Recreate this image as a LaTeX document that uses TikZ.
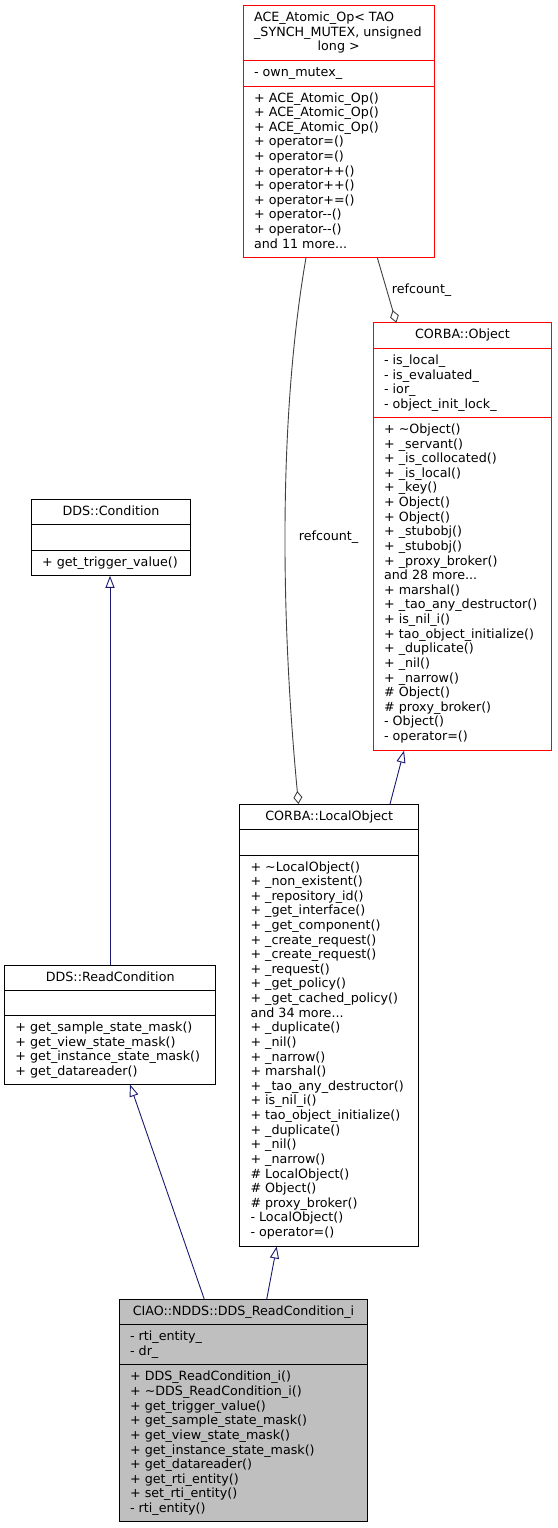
\documentclass[tikz,border=0pt]{standalone}
\usepackage{fontspec}
\newfontfamily\dejavu{DejaVu Sans}
\usetikzlibrary{arrows.meta}
\definecolor{boxred}{HTML}{FF0000}
\definecolor{edgeblue}{HTML}{191970}
\definecolor{agggray}{HTML}{404040}
\definecolor{cfill}{HTML}{BFBFBF}
\newcommand\clsfont{\dejavu\fontsize{12.7pt}{14.62pt}\selectfont}
\newcommand\mlines[1]{\begin{tabular}[t]{@{}l@{}}#1\end{tabular}}
\newcommand\tl{\textasciitilde}
\tikzset{
  classbox/.style={draw, line width=1pt, anchor=north west, inner sep=0pt, outer sep=0pt},
  redbox/.style={classbox, draw=boxred},
  txt/.style={anchor=base west, inner sep=0pt, font=\clsfont},
  ttl/.style={anchor=base, inner sep=0pt, font=\clsfont},
  sepline/.style={line width=1pt},
  inherit/.style={draw=edgeblue, line width=0.9pt, -{Triangle[open, length=12pt, width=9pt]}},
  aggr/.style={draw=agggray, line width=0.9pt, -{Diamond[open, length=13pt, width=9pt]}},
}
\begin{document}
\begin{tikzpicture}[x=1pt, y=-1pt]
\useasboundingbox (0,0) rectangle (557,1528);

% ACE_Atomic_Op
\node[redbox, minimum width=190.7pt, minimum height=251.9pt] (ace) at (243.3,5.7) {};
\draw[sepline, boxred] (243.3,60.4) -- (434,60.4);
\draw[sepline, boxred] (243.3,86) -- (434,86);
\node[txt] (acet) at (253.9,21.7) {\mlines{ACE\_Atomic\_Op< TAO\\\_SYNCH\_MUTEX, unsigned}};
\node[ttl] (acet2) at (338.7,50.9) {long >};
\node[txt] (acea) at (253.9,76.4) {\mlines{- own\_mutex\_}};
\node[txt] (acem) at (253.9,102) {\mlines{+ ACE\_Atomic\_Op()\\+ ACE\_Atomic\_Op()\\+ ACE\_Atomic\_Op()\\+ operator=()\\+ operator=()\\+ operator++()\\+ operator++()\\+ operator+=()\\+ operator--()\\+ operator--()\\and 11 more...}};

% CORBA::Object
\node[redbox, minimum width=178.4pt, minimum height=428pt] (obj) at (373.3,322.7) {};
\draw[sepline, boxred] (373.3,348.5) -- (551.7,348.5);
\draw[sepline, boxred] (373.3,417.5) -- (551.7,417.5);
\node[ttl] (objt) at (462.5,338.7) {CORBA::Object};
\node[txt] (obja) at (383.9,364.5) {\mlines{- is\_local\_\\- is\_evaluated\_\\- ior\_\\- object\_init\_lock\_}};
\node[txt] (objm) at (383.9,433.5) {\mlines{+ \tl Object()\\+ \_servant()\\+ \_is\_collocated()\\+ \_is\_local()\\+ \_key()\\+ Object()\\+ Object()\\+ \_stubobj()\\+ \_stubobj()\\+ \_proxy\_broker()\\and 28 more...\\+ marshal()\\+ \_tao\_any\_destructor()\\+ is\_nil\_i()\\+ tao\_object\_initialize()\\+ \_duplicate()\\+ \_nil()\\+ \_narrow()\\\# Object()\\\# proxy\_broker()\\- Object()\\- operator=()}};

% DDS::Condition
\node[classbox, minimum width=159.4pt, minimum height=76.5pt] (cond) at (31.3,499.3) {};
\draw[sepline] (31.3,524.8) -- (190.7,524.8);
\draw[sepline] (31.3,550.3) -- (190.7,550.3);
\node[ttl] (condt) at (111,515.3) {DDS::Condition};
\node[txt] (condm) at (41.9,566.3) {\mlines{+ get\_trigger\_value()}};

% CORBA::LocalObject
\node[classbox, minimum width=179pt, minimum height=442.5pt] (lo) at (239.7,804) {};
\draw[sepline] (239.7,829.5) -- (418.7,829.5);
\draw[sepline] (239.7,855) -- (418.7,855);
\node[ttl] (lot) at (329.2,820) {CORBA::LocalObject};
\node[txt] (lom) at (250.3,871) {\mlines{+ \tl LocalObject()\\+ \_non\_existent()\\+ \_repository\_id()\\+ \_get\_interface()\\+ \_get\_component()\\+ \_create\_request()\\+ \_create\_request()\\+ \_request()\\+ \_get\_policy()\\+ \_get\_cached\_policy()\\and 34 more...\\+ \_duplicate()\\+ \_nil()\\+ \_narrow()\\+ marshal()\\+ \_tao\_any\_destructor()\\+ is\_nil\_i()\\+ tao\_object\_initialize()\\+ \_duplicate()\\+ \_nil()\\+ \_narrow()\\\# LocalObject()\\\# Object()\\\# proxy\_broker()\\- LocalObject()\\- operator=()}};

% DDS::ReadCondition
\node[classbox, minimum width=211pt, minimum height=119.5pt] (rc) at (4.7,965) {};
\draw[sepline] (4.7,990.3) -- (215.7,990.3);
\draw[sepline] (4.7,1015.5) -- (215.7,1015.5);
\node[ttl] (rct) at (110.2,981) {DDS::ReadCondition};
\node[txt] (rcm) at (15.3,1031.5) {\mlines{+ get\_sample\_state\_mask()\\+ get\_view\_state\_mask()\\+ get\_instance\_state\_mask()\\+ get\_datareader()}};

% CIAO::NDDS::DDS_ReadCondition_i
\node[classbox, fill=cfill, minimum width=248.4pt, minimum height=222.4pt] (ciao) at (119.3,1299.3) {};
\draw[sepline] (119.3,1324.8) -- (367.7,1324.8);
\draw[sepline] (119.3,1364.9) -- (367.7,1364.9);
\node[ttl] (ciaot) at (243.5,1315.3) {CIAO::NDDS::DDS\_ReadCondition\_i};
\node[txt] (ciaoa) at (129.9,1340.8) {\mlines{- rti\_entity\_\\- dr\_}};
\node[txt] (ciaom) at (129.9,1380.9) {\mlines{+ DDS\_ReadCondition\_i()\\+ \tl DDS\_ReadCondition\_i()\\+ get\_trigger\_value()\\+ get\_sample\_state\_mask()\\+ get\_view\_state\_mask()\\+ get\_instance\_state\_mask()\\+ get\_datareader()\\+ get\_rti\_entity()\\+ set\_rti\_entity()\\- rti\_entity()}};

% aggregation edges
\draw[aggr] ([xshift=134pt]ace.south west) -- ([xshift=23pt]obj.north west);
\node[txt] (lab1) at (391.7,293) {refcount\_};
\draw[aggr] ([xshift=62.7pt]ace.south west) .. controls (278,420) and (281,620) .. ([xshift=58.8pt]lo.north west);
\node[txt] (lab2) at (298.7,540) {refcount\_};

% inheritance edges
\draw[inherit] ([xshift=150.3pt]lo.north west) -- ([xshift=30.7pt]obj.south west);
\draw[inherit] ([xshift=105.3pt]rc.north west) -- ([xshift=78.7pt]cond.south west);
\draw[inherit] ([xshift=85pt]ciao.north west) -- ([xshift=125.3pt]rc.south west);
\draw[inherit] ([xshift=147.4pt]ciao.north west) -- ([xshift=37pt]lo.south west);
\end{tikzpicture}
\end{document}
